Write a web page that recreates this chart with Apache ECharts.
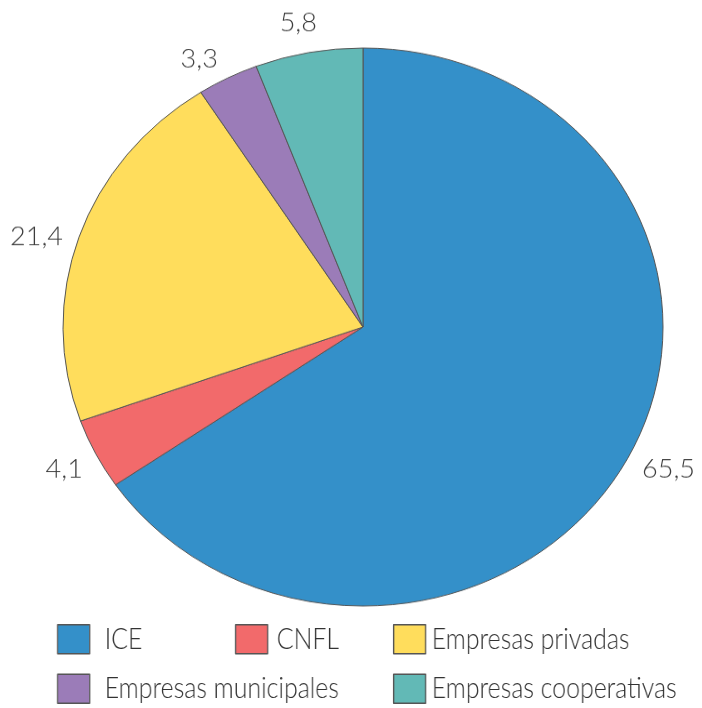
<!DOCTYPE html>
<html><head><meta charset="utf-8">
<script src="https://cdn.jsdelivr.net/npm/echarts@6/dist/echarts.min.js"></script>
<style>
html,body{margin:0;padding:0;background:#fff;overflow:hidden;width:702px;height:708px;position:relative}
#legendChart{position:absolute;left:0;top:0;height:708px;transform-origin:0 0}
#pieChart{position:absolute;left:0;top:-50px;width:702px;height:800px;transform:scaleY(0.93);transform-origin:0 377px}
</style></head><body>
<div id="legendChart"></div><div id="pieChart"></div>
<script>
// ---- data ----
const categories = ['ICE', 'CNFL', 'Empresas privadas', 'Empresas municipales', 'Empresas cooperativas'];
const values = [65.5, 4.1, 21.4, 3.3, 5.8];
const colors = ['#3490c9', '#f26a6b', '#ffdd5c', '#9b7cb8', '#62b9b6'];

// ---- layout (label offsets per slice, not data) ----
const labelLineLengths = [[29, -12], [36, -19], [0, 16], [22, 0], [32, -14]];

const fmt = p => String(p.value).replace('.', ',');

const pieData = categories.map((n, i) => ({
  name: n,
  value: values[i],
  labelLine: { length: labelLineLengths[i][0], length2: labelLineLengths[i][1] }
}));

const pie = echarts.init(document.getElementById('pieChart'), null, { renderer: 'canvas' });
pie.setOption({
  animation: false,
  color: colors,
  series: [{
    type: 'pie',
    center: [363, 377],
    radius: 300,
    startAngle: 90,
    clockwise: true,
    avoidLabelOverlap: false,
    itemStyle: { borderColor: '#555', borderWidth: 1 },
    label: {
      show: true, position: 'outside', formatter: fmt,
      fontFamily: 'Lato', fontWeight: 300, fontSize: 27, color: '#3c3c3c', distanceToLabelLine: 0
    },
    labelLine: { show: false },
    emphasis: { scale: false },
    data: pieData
  }]
});

// ---- legend (condensed look: horizontal squeeze of the legend layer) ----
const legendFont = 'Lato';
const legendSize = 30;
const ctx = document.createElement('canvas').getContext('2d');
ctx.font = '300 ' + legendSize + 'px ' + legendFont;
const sx = Math.min(1, 245 / ctx.measureText(categories[4]).width);
const lgDiv = document.getElementById('legendChart');
lgDiv.style.width = (702 / sx) + 'px';
lgDiv.style.transform = 'scaleX(' + sx + ')';

const iconLeft = [57, 235, 393];
const textStart = [104, 276, 431];
const iconW = 32;
const cols = [[categories[0], categories[3]], [categories[1]], [categories[2], categories[4]]];

const lg = echarts.init(lgDiv, null, { renderer: 'canvas' });
lg.setOption({
  animation: false,
  color: colors,
  legend: cols.map((d, k) => ({
    orient: 'vertical', top: 624, left: iconLeft[k] / sx, padding: 0,
    itemGap: 19, itemWidth: iconW / sx, itemHeight: 29,
    icon: 'rect', itemStyle: { borderColor: '#555', borderWidth: 1.5 },
    data: d,
    textStyle: {
      fontFamily: legendFont, fontWeight: 300, fontSize: legendSize, color: '#333',
      padding: [0, 0, 0, Math.max(0, (textStart[k] - iconLeft[k] - iconW) / sx - 5)]
    }
  })),
  series: [{
    type: 'pie', center: [-200, -200], radius: 1, silent: true,
    label: { show: false }, labelLine: { show: false },
    data: categories.map((n, i) => ({ name: n, value: values[i] }))
  }]
});
</script>
</body></html>
